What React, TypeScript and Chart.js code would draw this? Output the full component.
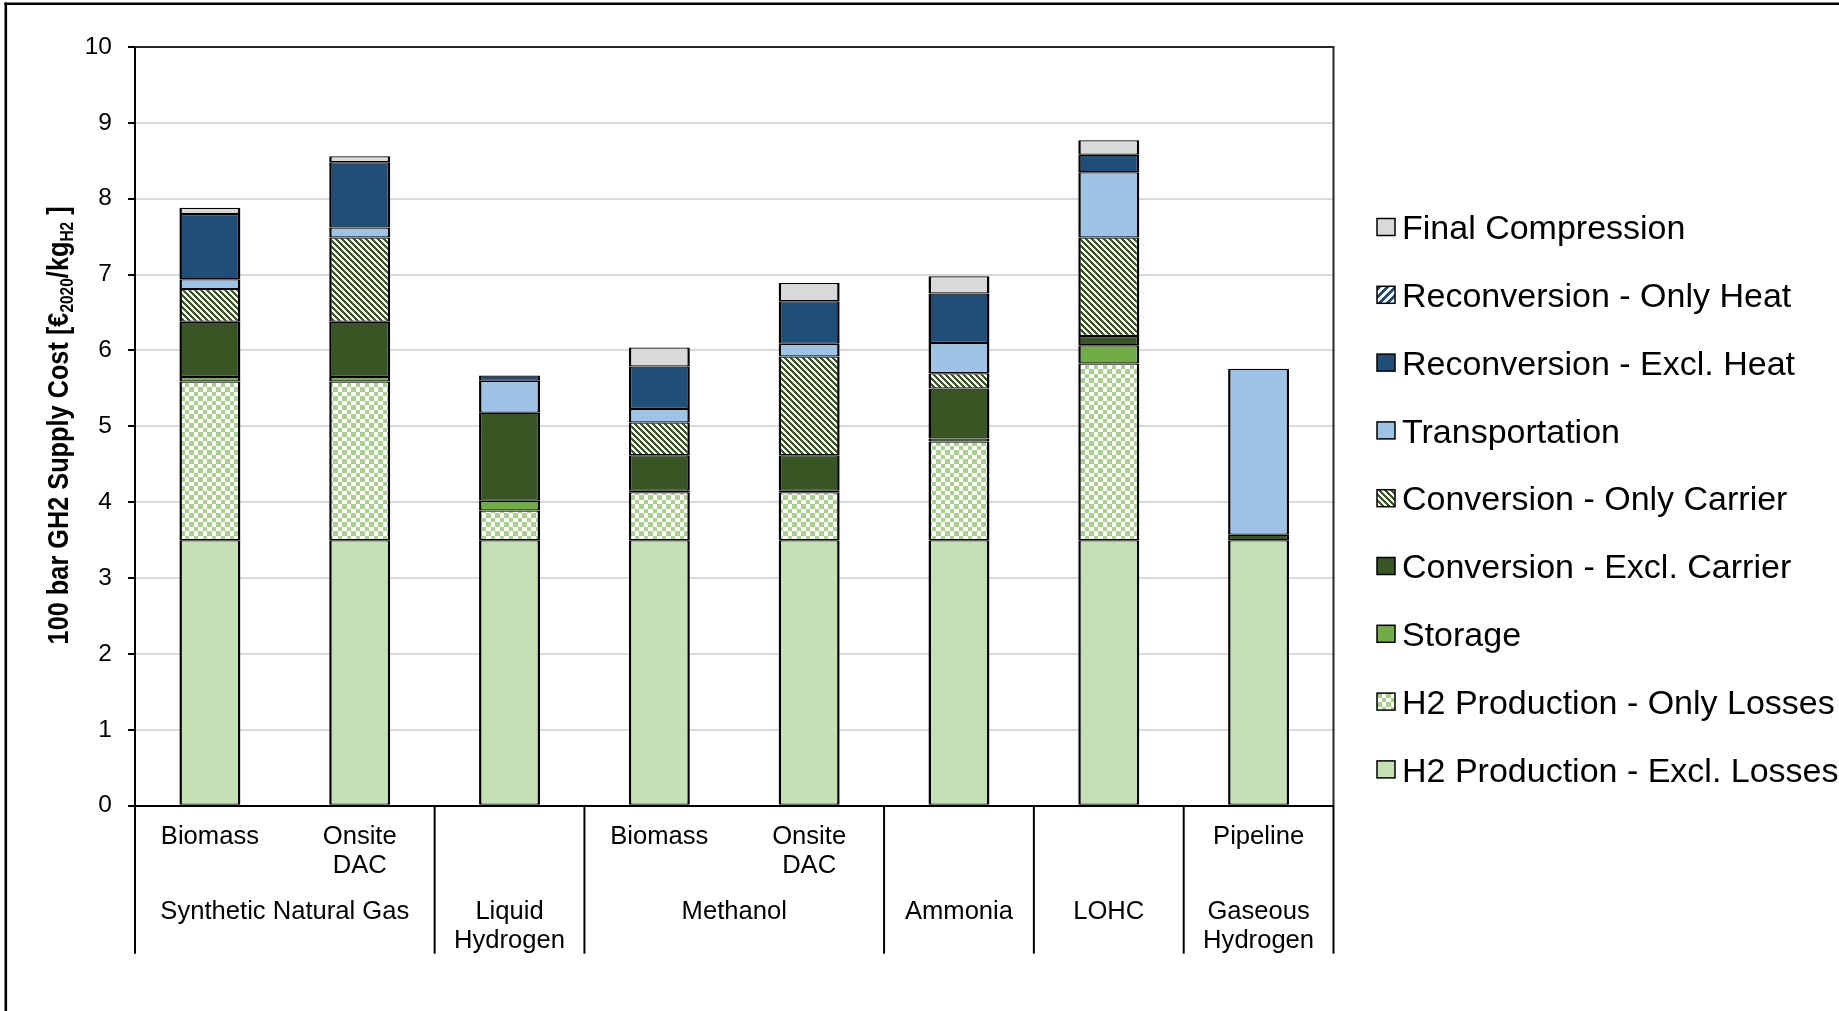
import React, { useEffect, useRef } from 'react';
import { Chart, registerables } from 'chart.js';

Chart.register(...registerables);

// ---------- data ----------
const categories: string[][] = [
  ['Biomass'], ['Onsite', 'DAC'], [''], ['Biomass'], ['Onsite', 'DAC'], [''], [''], ['Pipeline'],
];
const groupLabels: string[][] = [
  ['Synthetic Natural Gas'], ['Liquid', 'Hydrogen'], ['Methanol'], ['Ammonia'], ['LOHC'], ['Gaseous', 'Hydrogen'],
];
const groupSizes = [2, 1, 2, 1, 1, 1];

const h2ExclLosses = [3.5, 3.5, 3.5, 3.5, 3.5, 3.5, 3.5, 3.5];
const h2OnlyLosses = [2.09, 2.09, 0.39, 0.63, 0.63, 1.3, 2.33, 0];
const storage = [0.06, 0.06, 0.13, 0.02, 0.02, 0.04, 0.24, 0];
const convExclCarrier = [0.73, 0.73, 1.16, 0.47, 0.47, 0.66, 0.12, 0.07];
const convOnlyCarrier = [0.43, 1.11, 0, 0.43, 1.3, 0.2, 1.3, 0];
const transportation = [0.13, 0.13, 0.42, 0.18, 0.17, 0.4, 0.86, 2.19];
const reconvExclHeat = [0.86, 0.86, 0.07, 0.56, 0.56, 0.65, 0.23, 0];
const reconvOnlyHeat = [0, 0, 0, 0, 0, 0, 0, 0];
const finalCompression = [0.08, 0.08, 0, 0.25, 0.24, 0.23, 0.19, 0];

const seriesLabels = [
  'H2 Production - Excl. Losses',
  'H2 Production - Only Losses',
  'Storage',
  'Conversion - Excl. Carrier',
  'Conversion - Only Carrier',
  'Transportation',
  'Reconversion - Excl. Heat',
  'Reconversion - Only Heat',
  'Final Compression',
];
const seriesValues = [
  h2ExclLosses, h2OnlyLosses, storage, convExclCarrier, convOnlyCarrier,
  transportation, reconvExclHeat, reconvOnlyHeat, finalCompression,
];
// legend order (top to bottom)
const legendOrder = [8, 7, 6, 5, 4, 3, 2, 1, 0];

const yMin = 0;
const yMax = 10;
const yStep = 1;
const yTitleMain = '100 bar GH2 Supply Cost [€';
const yTitleSub1 = '2020';
const yTitleMid = '/kg';
const yTitleSub2 = 'H2';
const yTitleEnd = ' ]';

const FONT = '"Liberation Sans", Arial, Helvetica, sans-serif';

function makePattern(w: number, h: number, fn: (x: number, y: number) => string): CanvasPattern | string {
  const c = document.createElement('canvas');
  c.width = w;
  c.height = h;
  const g = c.getContext('2d');
  if (!g) return '#ccc';
  for (let y = 0; y < h; y++) {
    for (let x = 0; x < w; x++) {
      g.fillStyle = fn(x, y);
      g.fillRect(x, y, 1, 1);
    }
  }
  const p = g.createPattern(c, 'repeat');
  return p || '#ccc';
}

export default function App() {
  const ref = useRef<HTMLCanvasElement | null>(null);

  useEffect(() => {
    const canvas = ref.current;
    if (!canvas) return;

    const checker = makePattern(9, 9, (x, y) =>
      (Math.floor(x / 4.5) + Math.floor(y / 4.5)) % 2 === 0 ? '#A9D18E' : '#FFFFFF');
    const greenStripes = makePattern(6, 6, (x, y) =>
      ((x - y + 60) % 6) < 3 ? '#375623' : '#FFFFFF');
    const blueStripes = makePattern(8, 8, (x, y) =>
      ((x + y) % 8) < 4 ? '#1F4E79' : '#FFFFFF');

    const fills: (string | CanvasPattern)[] = [
      '#C5E0B4', checker, '#70AD47', '#375623', greenStripes,
      '#9DC3E6', '#1F4E79', blueStripes, '#D9D9D9',
    ];

    const datasets = seriesLabels.map((label, i) => ({
      label,
      data: seriesValues[i].map((v) => (v === 0 ? null : v)),
      backgroundColor: fills[i] as any,
      borderColor: '#000000',
      borderWidth: { top: 1.25, bottom: 1.25, left: 2.5, right: 2.5 },
      borderSkipped: false as any,
      barPercentage: 0.407,
      categoryPercentage: 1,
      stack: 's',
    }));

    const customPlugin = {
      id: 'customDecor',
      afterDraw(chart: any) {
        const ctx: CanvasRenderingContext2D = chart.ctx;
        const area = chart.chartArea;
        const xs = chart.scales.x;
        const ys = chart.scales.y;
        ctx.save();

        // outer frame (top + left)
        ctx.fillStyle = '#000';
        ctx.fillRect(4.5, 2.5, chart.width - 4.5, 2.5);
        ctx.fillRect(4.5, 2.5, 2.6, chart.height - 2.5);

        // plot area border (top + right)
        ctx.strokeStyle = '#262626';
        ctx.lineWidth = 2;
        ctx.beginPath();
        ctx.moveTo(area.left, area.top);
        ctx.lineTo(area.right, area.top);
        ctx.lineTo(area.right, area.bottom);
        ctx.stroke();

        // y tick labels
        ctx.fillStyle = '#000';
        ctx.font = `24.5px ${FONT}`;
        ctx.textAlign = 'right';
        ctx.textBaseline = 'middle';
        ys.ticks.forEach((t: any) => {
          ctx.fillText(String(t.value), area.left - 23, ys.getPixelForValue(t.value));
        });

        // category labels (level 1)
        ctx.font = `25.6px ${FONT}`;
        ctx.textAlign = 'center';
        ctx.textBaseline = 'alphabetic';
        categories.forEach((lines, i) => {
          const x = xs.getPixelForValue(i);
          lines.forEach((ln, k) => {
            if (ln) ctx.fillText(ln, x, area.bottom + 38 + k * 29.6);
          });
        });

        // group labels (level 2) and dividers
        let start = 0;
        const bounds: number[] = [0];
        groupLabels.forEach((lines, g) => {
          const end = start + groupSizes[g];
          const x = (xs.getPixelForValue(start) + xs.getPixelForValue(end - 1)) / 2;
          lines.forEach((ln, k) => {
            ctx.fillText(ln, x, area.bottom + 113 + k * 29.6);
          });
          bounds.push(end);
          start = end;
        });
        ctx.strokeStyle = '#000';
        ctx.lineWidth = 2;
        bounds.forEach((b) => {
          const x = xs.getPixelForValue(b - 0.5);
          ctx.beginPath();
          ctx.moveTo(x, area.bottom);
          ctx.lineTo(x, area.bottom + 148);
          ctx.stroke();
        });

        // y axis title with subscripts
        ctx.save();
        ctx.translate(68, (area.top + area.bottom) / 2 - 1);
        ctx.rotate(-Math.PI / 2);
        ctx.scale(1, 1.15);
        const big = `bold 25.3px ${FONT}`;
        const small = `bold 15.5px ${FONT}`;
        const parts: [string, boolean][] = [
          [yTitleMain, false], [yTitleSub1, true], [yTitleMid, false], [yTitleSub2, true], [yTitleEnd, false],
        ];
        let total = 0;
        parts.forEach(([t, sub]) => {
          ctx.font = sub ? small : big;
          total += ctx.measureText(t).width;
        });
        let px = -total / 2;
        ctx.textAlign = 'left';
        ctx.textBaseline = 'alphabetic';
        parts.forEach(([t, sub]) => {
          ctx.font = sub ? small : big;
          ctx.fillText(t, px, sub ? 4 : 0);
          px += ctx.measureText(t).width;
        });
        ctx.restore();

        // legend
        const ds = chart.data.datasets;
        ctx.font = `34px ${FONT}`;
        ctx.textAlign = 'left';
        ctx.textBaseline = 'alphabetic';
        legendOrder.forEach((di, k) => {
          const cy = 227 + k * 67.8;
          const d = ds[di];
          ctx.fillStyle = d.backgroundColor;
          ctx.fillRect(1377, cy - 8.5, 18, 17);
          ctx.strokeStyle = '#000';
          ctx.lineWidth = 1.5;
          ctx.strokeRect(1377, cy - 8.5, 18, 17);
          ctx.fillStyle = '#000';
          ctx.fillText(d.label, 1402, cy + 12.2);
        });

        ctx.restore();
      },
    };

    const chart = new Chart(canvas, {
      type: 'bar',
      data: {
        labels: categories.map((c) => c.join(' ')),
        datasets: datasets as any,
      },
      options: {
        responsive: false,
        devicePixelRatio: 1,
        animation: false,
        layout: {
          padding: { top: 47, right: 1839 - 1333.5, bottom: 1011 - 953, left: 0 },
        },
        plugins: {
          legend: { display: false },
          tooltip: { enabled: false },
          title: { display: false },
        },
        scales: {
          x: {
            stacked: true,
            grid: { display: false, drawTicks: false },
            border: { display: true, color: '#000', width: 2 },
            ticks: { display: false },
            afterFit: (s: any) => {
              s.height = 147.3;
            },
          },
          y: {
            stacked: true,
            min: yMin,
            max: yMax,
            ticks: { stepSize: yStep, display: false },
            grid: { color: '#D9D9D9', lineWidth: 2, tickColor: '#000', tickLength: 7, tickWidth: 2 },
            border: { display: true, color: '#000', width: 2 },
            afterFit: (s: any) => {
              s.width = 135;
            },
          },
        },
      },
      plugins: [customPlugin],
    });

    return () => {
      chart.destroy();
    };
  }, []);

  return (
    <div style={{ position: 'fixed', left: 0, top: 0, width: 1839, height: 1011, background: '#fff' }}>
      <canvas ref={ref} width={1839} height={1011} style={{ display: 'block', width: 1839, height: 1011 }} />
    </div>
  );
}
